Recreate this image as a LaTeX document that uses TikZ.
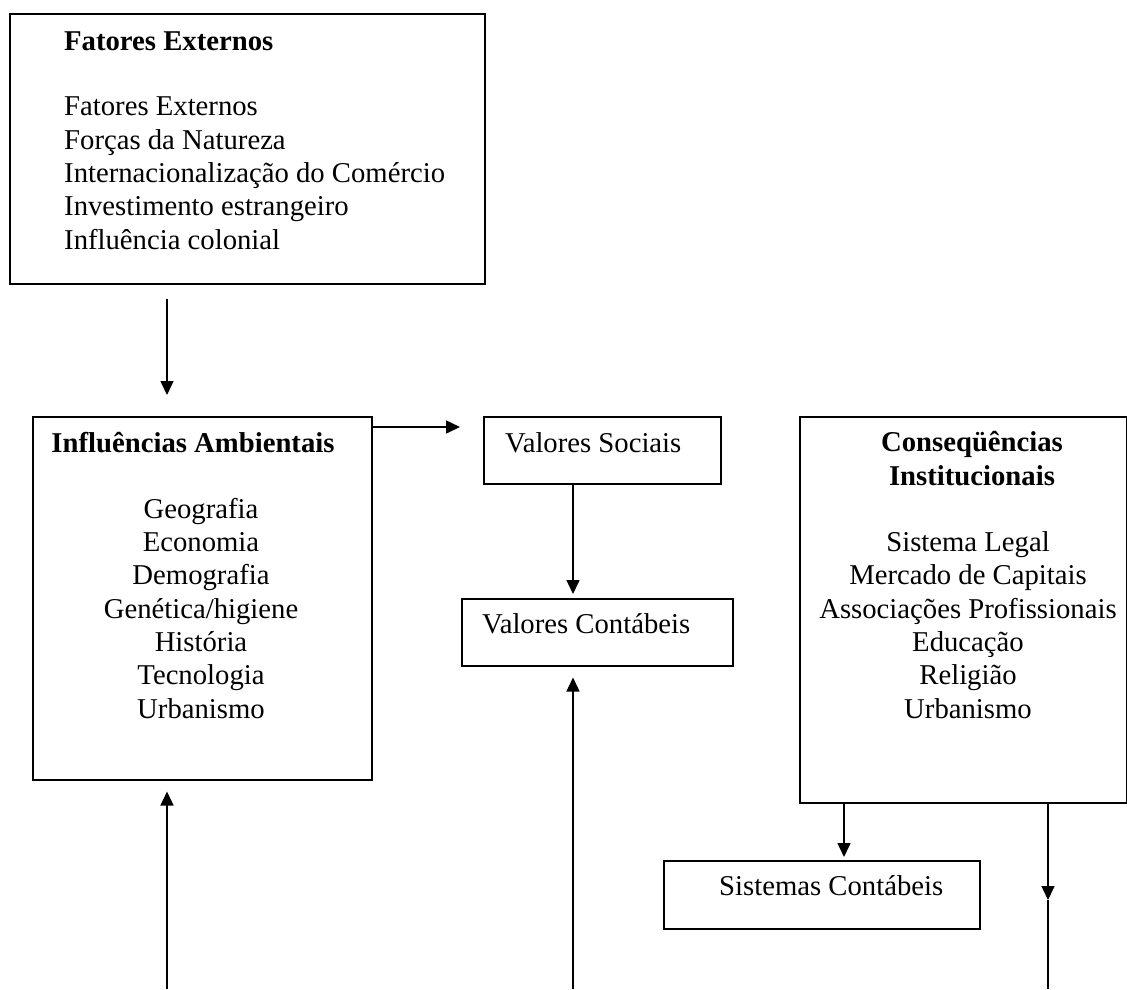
\documentclass[tikz,border=0pt]{standalone}
\usepackage{fontspec}
\setmainfont{Liberation Serif}
\usetikzlibrary{arrows.meta}
\tikzset{
  caixa/.style={draw,line width=1.5pt,anchor=north west,inner sep=0pt},
  texto/.style={font=\fontsize{28.7pt}{33.3pt}\selectfont,inner sep=0pt},
  seta/.style={line width=1.5pt,-{Triangle[length=14pt,width=13pt]}}
}
\begin{document}
\begin{tikzpicture}[x=1pt,y=-1pt]
\useasboundingbox (0,0) rectangle (1127,989);
% caixas
\node[caixa,minimum width=475pt,minimum height=270pt] (externos) at (9,13) {};
\node[caixa,minimum width=339pt,minimum height=363pt] (ambientais) at (32,416) {};
\node[caixa,minimum width=237pt,minimum height=67pt] (sociais) at (483,416) {};
\node[caixa,minimum width=271pt,minimum height=67pt] (contabeis) at (461,598) {};
\node[caixa,minimum width=327pt,minimum height=386pt] (consequencias) at (799,416) {};
\node[caixa,minimum width=316pt,minimum height=68pt] (sistemas) at (663,860) {};
% textos (base = ultima linha)
\node[texto,anchor=base west] (externos-tit) at (64,50) {\textbf{Fatores Externos}};
\node[texto,anchor=base west,align=left] (externos-lst) at (64,249) {Fatores Externos\\Forças da Natureza\\Internacionalização do Comércio\\Investimento estrangeiro\\Influência colonial};
\node[texto,anchor=base] (ambientais-tit) at (193,452) {\textbf{Influências Ambientais}};
\node[texto,anchor=base,align=center] (ambientais-lst) at (201,718) {Geografia\\Economia\\Demografia\\Genética/higiene\\História\\Tecnologia\\Urbanismo};
\node[texto,anchor=base west] (sociais-txt) at (505,452) {Valores Sociais};
\node[texto,anchor=base west] (contabeis-txt) at (482,633) {Valores Contábeis};
\node[texto,anchor=base,align=center] (consequencias-tit) at (972,485) {\textbf{Conseqüências}\\\textbf{Institucionais}};
\node[texto,anchor=base,align=center] (consequencias-lst) at (968,718) {Sistema Legal\\Mercado de Capitais\\Associações Profissionais\\Educação\\Religião\\Urbanismo};
\node[texto,anchor=base west] (sistemas-txt) at (719,895) {Sistemas Contábeis};
% setas
\coordinate (s-amb) at ([yshift=-11pt]ambientais.north east);
\coordinate (base-esq) at (167,989);
\coordinate (base-meio) at (573,989);
\coordinate (meio-dir) at (1048,900);
\coordinate (base-dir) at (1048,989);
\draw[seta,shorten <=14pt,shorten >=21pt] ([xshift=158pt]externos.south west) -- ([xshift=135pt]ambientais.north west);
\draw[seta,shorten >=23pt] (s-amb) -- (s-amb -| sociais.west);
\draw[seta,shorten >=4pt] ([xshift=90pt]sociais.south west) -- ([xshift=112pt]contabeis.north west);
\draw[seta,shorten >=11pt] (base-meio) -- (base-meio |- contabeis.south);
\draw[seta,shorten >=11pt] (base-esq) -- (base-esq |- ambientais.south);
\draw[seta,shorten >=3pt] ([xshift=45pt]consequencias.south west) -- ([xshift=181pt]sistemas.north west);
\draw[seta] ([xshift=249pt]consequencias.south west) -- (meio-dir);
\draw[line width=1.5pt] (meio-dir) -- (base-dir);
\end{tikzpicture}
\end{document}
